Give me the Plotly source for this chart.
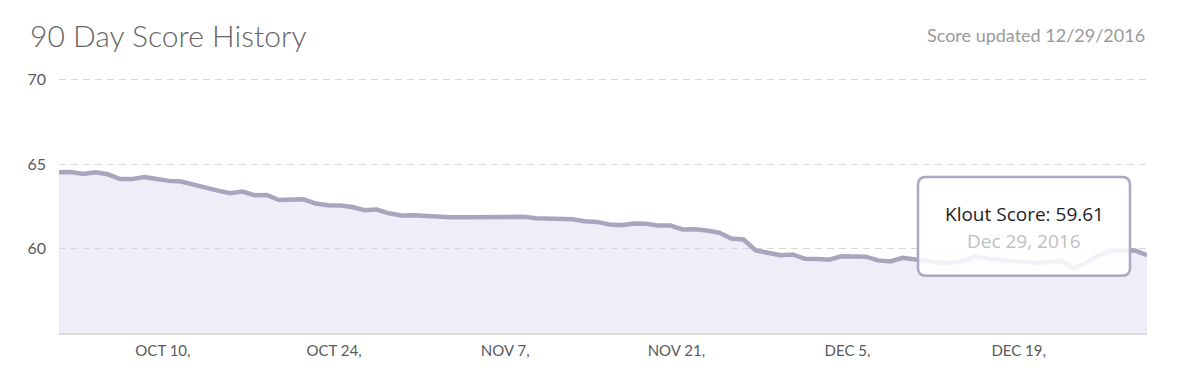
import pandas as pd
import plotly.graph_objects as go

# ---- data ----
start_date = "2016-10-01 12:00"
scores = [
    64.52, 64.54, 64.42, 64.52, 64.40, 64.12, 64.12, 64.24, 64.12, 64.01,
    63.97, 63.77, 63.59, 63.43, 63.28, 63.38, 63.16, 63.18, 62.88, 62.92,
    62.92, 62.67, 62.57, 62.55, 62.46, 62.27, 62.31, 62.09, 61.96, 61.98,
    61.92, 61.88, 61.86, 61.86, 61.86, 61.86, 61.87, 61.88, 61.88, 61.80,
    61.78, 61.76, 61.74, 61.62, 61.58, 61.43, 61.39, 61.49, 61.47, 61.37,
    61.37, 61.13, 61.15, 61.07, 60.94, 60.60, 60.54, 59.89, 59.73, 59.61,
    59.65, 59.40, 59.38, 59.34, 59.54, 59.52, 59.52, 59.30, 59.24, 59.45,
    59.39, 59.27, 59.18, 59.15, 59.27, 59.54, 59.39, 59.33, 59.24, 59.15,
    59.15, 59.21, 59.27, 58.83, 59.15, 59.57, 59.86, 59.89, 59.89, 59.61,
]
dates = pd.date_range(start_date, periods=len(scores), freq="D")

tick_dates = ["2016-10-10", "2016-10-24", "2016-11-07", "2016-11-21", "2016-12-05", "2016-12-19"]
tick_labels = ["OCT 10,", "OCT 24,", "NOV 7,", "NOV 21,", "DEC 5,", "DEC 19,"]
y_ticks = [60, 65, 70]
y_range = [55, 70.4]

title_text = "90 Day Score History"
updated_text = "Score updated 12/29/2016"

# ---- layout geometry (page has an 8px body margin) ----
OFF = 8
PXU = 16.93  # pixels per score unit in the reference
W, H = 1180 - OFF, 379 - OFF
ML, MR, MB = 59 - OFF, 33, 45.5
MT = 79.5 - (y_range[1] - 70) * PXU - OFF
PW, PH = W - ML - MR, H - MT - MB

def px_x(p):  # page pixel -> paper
    return (p - OFF - ML) / PW

def px_y(p):
    return (H - MB - (p - OFF)) / PH

LINE = "#aba4bf"
FILL = "rgba(215,210,235,0.40)"
GRID = "#d6d6d6"

fig = go.Figure()
fig.add_trace(go.Scatter(
    x=dates, y=scores, mode="lines",
    line=dict(color=LINE, width=4.5, shape="linear"),
    fill="tozeroy", fillcolor=FILL,
    hoverinfo="skip", showlegend=False,
))

# tooltip box (rounded rectangle) in paper coordinates
bx0, bx1, by0, by1, r = 918, 1130, 177, 276, 8
x0, x1 = px_x(bx0), px_x(bx1)
y0, y1 = px_y(by1), px_y(by0)
rx, ry = r / PW, r / PH
path = (f"M {x0+rx},{y1} L {x1-rx},{y1} Q {x1},{y1} {x1},{y1-ry} "
        f"L {x1},{y0+ry} Q {x1},{y0} {x1-rx},{y0} "
        f"L {x0+rx},{y0} Q {x0},{y0} {x0},{y0+ry} "
        f"L {x0},{y1-ry} Q {x0},{y1} {x0+rx},{y1} Z")
fig.add_shape(type="path", path=path, xref="paper", yref="paper",
              fillcolor="rgba(255,255,255,0.85)",
              line=dict(color="#aea7c0", width=2.5), layer="above")

last_date = dates[-1]
tip_main = f"Klout Score: {scores[-1]:.2f}"
tip_date = f"{last_date.strftime('%b')} {last_date.day}, {last_date.year}"
cx = px_x((bx0 + bx1) / 2)
fig.add_annotation(text=tip_main, xref="paper", yref="paper", x=cx, y=px_y(214),
                   xanchor="center", yanchor="middle", showarrow=False,
                   font=dict(family="Open Sans", size=19, color="#222222"))
fig.add_annotation(text=tip_date, xref="paper", yref="paper", x=cx, y=px_y(241),
                   xanchor="center", yanchor="middle", showarrow=False,
                   font=dict(family="Open Sans", size=19, color="#c0c0c0"))

# header texts
fig.add_annotation(text=title_text, xref="paper", yref="paper", x=px_x(28), y=px_y(35),
                   xanchor="left", yanchor="middle", showarrow=False,
                   font=dict(family="Lato", size=30, color="#666666", weight=300))
fig.add_annotation(text=updated_text, xref="paper", yref="paper", x=px_x(1147), y=px_y(35),
                   xanchor="right", yanchor="middle", showarrow=False,
                   font=dict(family="Lato", size=18, color="#9a9a9a"))

fig.update_layout(
    width=W, height=H,
    margin=dict(l=ML, r=MR, t=MT, b=MB, pad=0),
    paper_bgcolor="white", plot_bgcolor="white",
    font=dict(family="Lato", color="#555555"),
    xaxis=dict(
        range=[dates[0], dates[-1]],
        tickvals=tick_dates, ticktext=tick_labels,
        showgrid=False, zeroline=False,
        showline=True, linecolor="#dcdcdc", linewidth=2,
        ticks="", tickfont=dict(family="Lato", size=15, color="#5a5a5a"),
        ticklabelstandoff=3,
    ),
    yaxis=dict(
        range=y_range, tickvals=y_ticks,
        showgrid=True, gridcolor=GRID, griddash="7px,5px", gridwidth=1,
        zeroline=False, showline=False, ticks="",
        tickfont=dict(family="Lato", size=16, color="#5a5a5a"),
        ticklabelstandoff=12,
    ),
)

fig.write_html("out.html")
